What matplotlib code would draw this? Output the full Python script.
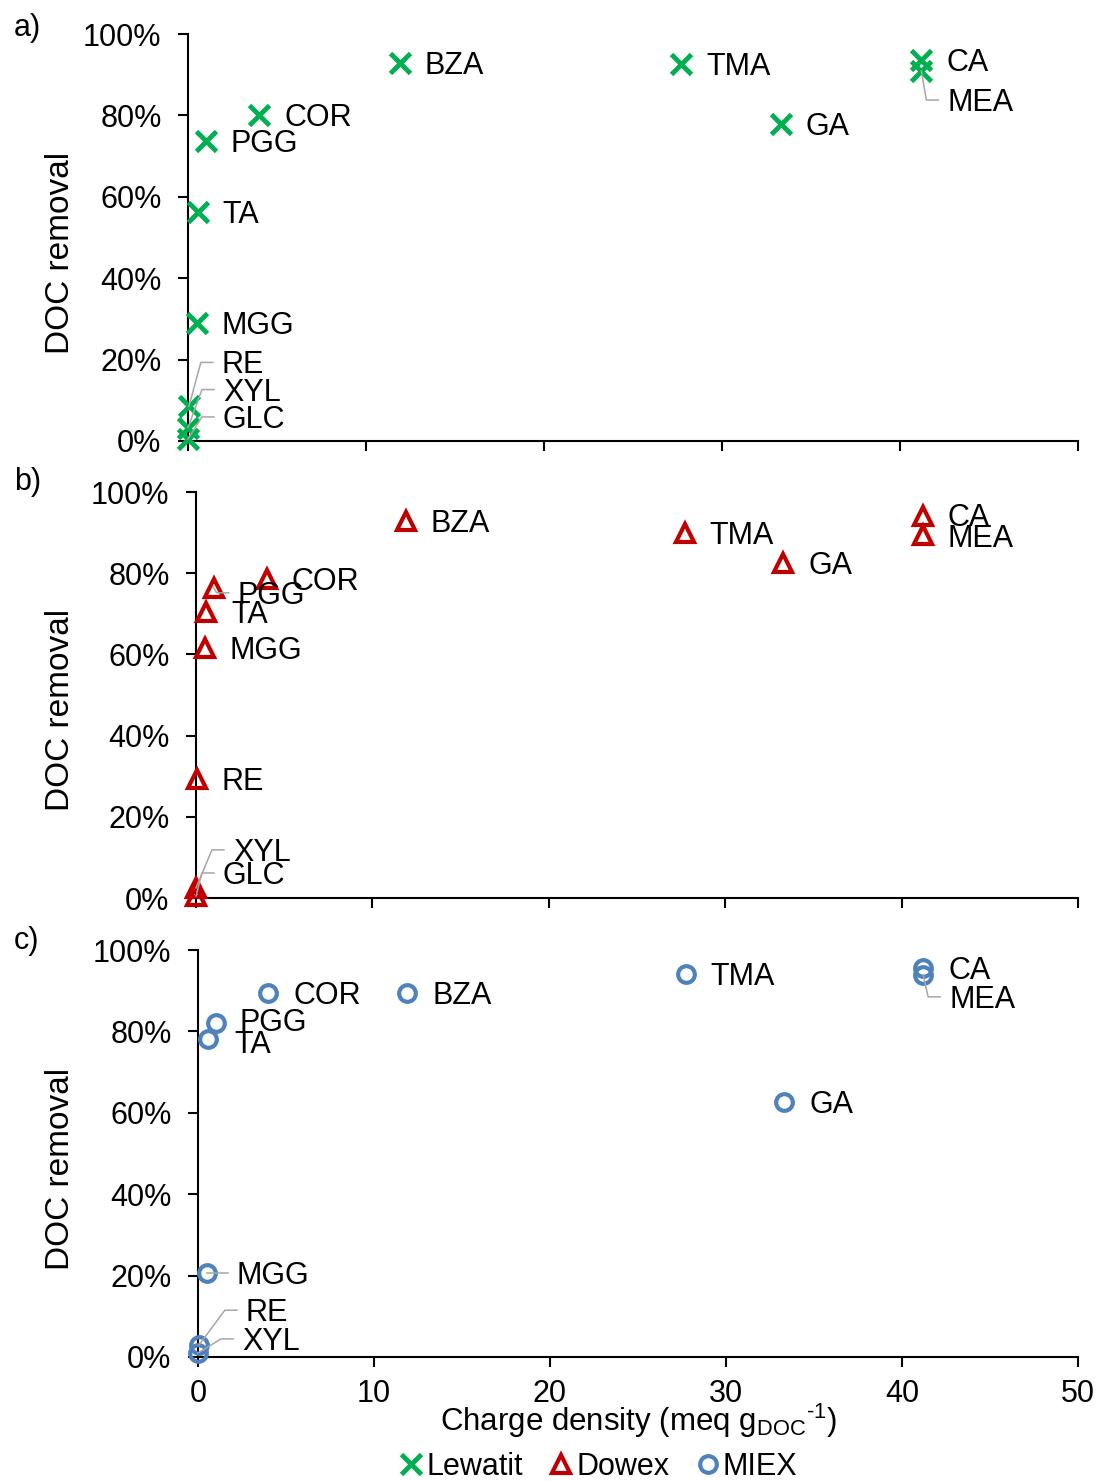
import numpy as np
import matplotlib
matplotlib.use("Agg")
import matplotlib.pyplot as plt
from matplotlib.lines import Line2D
from matplotlib.transforms import Affine2D, ScaledTranslation

plt.rcParams["font.family"] = ["Liberation Sans", "DejaVu Sans"]
plt.rcParams["mathtext.fontset"] = "custom"
plt.rcParams["mathtext.rm"] = "Liberation Sans"

# data
compounds = ["BZA", "TMA", "CA", "MEA", "GA", "COR", "PGG", "TA", "MGG", "RE", "XYL", "GLC"]
charge_density = [11.9, 27.7, 41.2, 41.2, 33.3, 4.0, 1.0, 0.55, 0.5, 0.05, 0.0, 0.0]  # meq/gDOC
lewatit = [92.9, 92.6, 93.6, 90.9, 77.9, 80.1, 73.7, 56.3, 29.0, 8.5, 3.3, 0.5]  # %
dowex = [92.9, 89.9, 94.0, 89.4, 82.5, 78.6, 76.4, 70.4, 61.6, 29.3, 2.5, 0.5]
miex = [89.4, 94.1, 95.6, 93.9, 62.7, 89.4, 82.1, 78.1, 20.6, 2.9, 1.0, np.nan]

x_ticks = [0, 10, 20, 30, 40, 50]
y_ticks = [0, 20, 40, 60, 80, 100]

FS = 22
LEADER_COLOR = "#A6A6A6"
TEXT_SHIFT = 3  # px, matplotlib centres text a bit high compared to the original

# label placement in pixels (dx, dy downward) relative to the point, and whether a leader line is drawn
default_off = (25, 0)
label_offsets = [
    {"MEA": (26, 29, True), "RE": (33, -44, True), "XYL": (35, -38, True), "GLC": (35, -22, True)},
    {"PGG": (24, 5, True), "TA": (26, 0, False), "CA": (25, -1, False), "MEA": (25, 1, False),
     "XYL": (37, -38, True), "GLC": (27, -23, True)},
    {"MEA": (26, 22, True), "PGG": (24, -3, False), "TA": (27, 3, False), "MGG": (30, 0, True),
     "RE": (47, -35, True), "XYL": (44, -14, True)},
]

series = [
    dict(values=lewatit, name="Lewatit", marker="x", color="#00B050", ms=14, mew=3.5),
    dict(values=dowex, name="Dowex", marker="^", color="#C00000", ms=13, mew=3.0),
    dict(values=miex, name="MIEX", marker="o", color="#4F81BD", ms=12, mew=3.0),
]

# axes boxes in pixels: left, top, right, bottom
W, H = 1099, 1481
boxes = [(188, 34, 1078, 441), (196, 492, 1078, 898), (198, 950, 1078, 1357)]
letters = ["a)", "b)", "c)"]
letter_y = [28, 482, 941]

fig = plt.figure(figsize=(W / 100, H / 100), dpi=100)

for i, (box, s) in enumerate(zip(boxes, series)):
    l, t, r, b = box
    ax = fig.add_axes([l / W, 1 - b / H, (r - l) / W, (b - t) / H])
    for side in ["top", "right"]:
        ax.spines[side].set_visible(False)
    for side in ["left", "bottom"]:
        ax.spines[side].set_linewidth(1.5)

    ax.set_xlim(0, 50)
    ax.set_ylim(0, 100)
    ax.set_xticks(x_ticks)
    ax.set_yticks(y_ticks)
    ax.set_yticklabels([f"{v}%" for v in y_ticks])
    ax.tick_params(axis="both", direction="out", length=7, width=1.5, labelsize=FS)
    ax.tick_params(axis="y", pad=12)
    ax.tick_params(axis="x", pad=9)
    if i < 2:
        ax.set_xticklabels([])

    ax.plot(charge_density, s["values"], linestyle="none", marker=s["marker"], ms=s["ms"],
            mew=s["mew"], mfc="none" if s["marker"] != "x" else s["color"], mec=s["color"],
            clip_on=False, zorder=3)

    offs = label_offsets[i]
    for name, xv, yv in zip(compounds, charge_density, s["values"]):
        if np.isnan(yv):
            continue
        dx, dy, leader = offs.get(name, (default_off[0], default_off[1], False))
        ax.annotate(name, xy=(xv, yv), xytext=(dx * 0.72, -(dy + TEXT_SHIFT) * 0.72),
                    textcoords="offset points", ha="left", va="center", fontsize=FS, zorder=5)
        if leader:
            tr = Affine2D().scale(1 / 100) + fig.dpi_scale_trans + ScaledTranslation(xv, yv, ax.transData)
            ax.plot([0, dx - 21, dx - 9], [0, -dy, -dy], color=LEADER_COLOR, lw=1.1,
                    transform=tr, clip_on=False, zorder=4)

    ax.set_ylabel("DOC removal", fontsize=24)
    ax.yaxis.set_label_coords((76 - l) / (r - l), (b - (t + b) / 2 - 15) / (b - t))

    fig.text(14 / W, 1 - letter_y[i] / H, letters[i], fontsize=FS, ha="left", va="center")

fig.text(638 / W, 1 - 1421 / H, r"Charge density (meq g$_{\rm DOC}$$^{\text{-1}}$)", fontsize=22.5,
         ha="center", va="center")

handles = [Line2D([], [], linestyle="none", marker=s["marker"], ms=s["ms"], mew=s["mew"],
                  mfc="none" if s["marker"] != "x" else s["color"], mec=s["color"], label=s["name"])
           for s in series]
fig.legend(handles=handles, loc="center", bbox_to_anchor=(599 / W, 1 - 1467 / H), ncol=3,
           frameon=False, fontsize=FS, handlelength=0.7, handletextpad=0.15, columnspacing=0.9,
           borderpad=0, borderaxespad=0)

fig.savefig("out.png", dpi=100)
